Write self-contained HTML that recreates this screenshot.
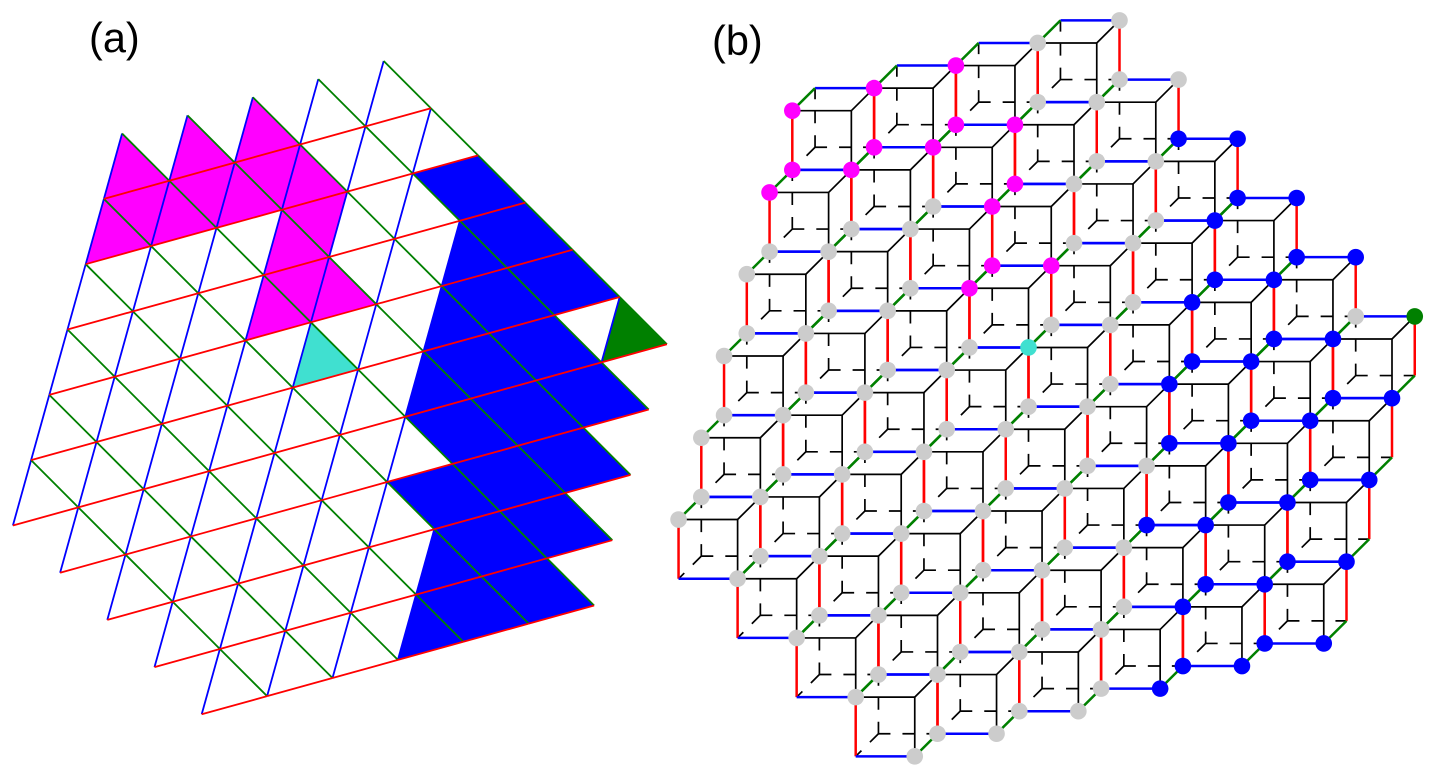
<!DOCTYPE html>
<html>
<head>
<meta charset="utf-8">
<style>
html,body{margin:0;padding:0;background:#fff;width:1435px;height:777px;overflow:hidden}
svg{display:block;position:absolute;left:0;top:0}
text{font-family:"Liberation Sans",sans-serif;font-size:41.5px;fill:#000}
</style>
</head>
<body>
<svg id="s" xmlns="http://www.w3.org/2000/svg" width="1435" height="777" viewBox="0 0 1435 777">
<rect width="1435" height="777" fill="#fff"/>
<g id="a"></g>
<g id="b"></g>
<text x="89" y="52">(a)</text>
<text x="712" y="55">(b)</text>
</svg>
<script>
var M='#ff00ff',B='#0000ff',G='#008000',T='#40e0d0',GY='#cccccc';
function P(i,j){return [383.7+47.2*i-65.4*j,61+47.2*i+18.13*j];}
function hasUp(i,j){
  if(i<0||i>9)return false;
  if(i<=5)return j>=0&&j<=4+i;
  return j>=i-5&&j<=9;
}
function poly(list){return list.map(function(a){return P(a[0],a[1]);});}
var polys=[
 {c:M,p:poly([[0,4],[1,4],[0,3],[1,3],[0,2],[2,2],[3,3],[4,3],[4,4],[4,5],[3,4],[2,3],[2,4],[2,5],[2,6],[1,5]])},
 {c:T,p:poly([[4,4],[5,4],[5,5]])},
 {c:G,p:poly([[5,0],[6,0],[6,1]])},
 {c:B,p:poly([[2,0],[5,0],[5,1],[6,1],[7,1],[7,2],[8,2],[8,3],[9,3],[9,4],[10,4],[10,7],[9,6],[8,5],[7,5],[7,4],[6,4],[5,3],[4,2],[3,1],[2,1]])}
];
function inside(pt,p){
  var c=false;
  for(var a=0,b=p.length-1;a<p.length;b=a++){
    if((p[a][1]>pt[1])!=(p[b][1]>pt[1])&&pt[0]<(p[b][0]-p[a][0])*(pt[1]-p[a][1])/(p[b][1]-p[a][1])+p[a][0])c=!c;
  }
  return c;
}
function colorAt(tri){
  var x=(tri[0][0]+tri[1][0]+tri[2][0])/3,y=(tri[0][1]+tri[1][1]+tri[2][1])/3;
  for(var k=0;k<polys.length;k++){if(inside([x,y],polys[k].p))return polys[k].c;}
  return GY;
}
function f(n){return n.toFixed(2);}
function ln(a,b,s,w,extra){return '<line x1="'+f(a[0])+'" y1="'+f(a[1])+'" x2="'+f(b[0])+'" y2="'+f(b[1])+'" stroke="'+s+'" stroke-width="'+w+'"'+(extra||'')+'/>';}
/* panel a */
var h='';
polys.forEach(function(o){h+='<polygon fill="'+o.c+'" points="'+o.p.map(function(q){return f(q[0])+','+f(q[1]);}).join(' ')+'"/>';});
var lb='',lg='',lr='',i,j;
for(i=0;i<10;i++)for(j=0;j<10;j++){
  if(!hasUp(i,j))continue;
  lb+=ln(P(i,j),P(i+1,j+1),B,1.8);
  lg+=ln(P(i,j),P(i+1,j),G,1.8);
  lr+=ln(P(i+1,j),P(i+1,j+1),'#ff0000',1.8);
}
document.getElementById('a').innerHTML=h+lb+lg+lr;
/* panel b */
var u=59.05,v=59.2,dx=22.75,dy=-22.6;
function U(i,j){return [1119.5+59.05*i-81.8*j,20.4+59.2*i+22.57*j];}
function add(p,x,y){return [p[0]+x,p[1]+y];}
var blk='',dash='',col='',nodes='';
var ranges=[[0,3],[0,4],[0,5],[0,6],[0,7],[0,8],[1,8],[2,8],[3,8]];
var dashAttr=' stroke-dasharray="12 12"';
for(i=0;i<9;i++)for(j=ranges[i][0];j<=ranges[i][1];j++){
  var A=U(i,j+1);
  var Ar=add(A,u,0),Ard=add(A,u+dx,dy),Ardv=add(A,u+dx,dy+v),Arv=add(A,u,v),Av=add(A,0,v),Ad=add(A,dx,dy),H=add(A,dx,dy+v);
  blk+=ln(A,Ar,'#000',1.7)+ln(Ar,Arv,'#000',1.7)+ln(Ar,Ard,'#000',1.7);
  dash+=ln(H,Ad,'#000',1.7,dashAttr)+ln(H,Ardv,'#000',1.7,dashAttr)+ln(H,Av,'#000',1.7,dashAttr);
  col+=ln(A,Av,'#ff0000',2.5)+ln(Ard,Ardv,'#ff0000',2.5)
      +ln(Ad,Ard,B,2.5)+ln(Av,Arv,B,2.5)
      +ln(A,Ad,G,2.5)+ln(Arv,Ardv,G,2.5);
}
function circ(p,c){return '<circle cx="'+f(p[0])+'" cy="'+f(p[1])+'" r="8.3" fill="'+c+'"/>';}
for(i=0;i<10;i++)for(j=0;j<10;j++){
  if(!hasUp(i,j))continue;
  nodes+=circ(U(i,j),colorAt([P(i,j),P(i+1,j),P(i+1,j+1)]));
  if(hasUp(i+1,j)&&hasUp(i+1,j+1)){
    nodes+=circ(add(U(i,j),0,v),colorAt([P(i+1,j),P(i+1,j+1),P(i+2,j+1)]));
  }
}
document.getElementById('b').innerHTML=dash+blk+col+nodes;
</script>
</body>
</html>
